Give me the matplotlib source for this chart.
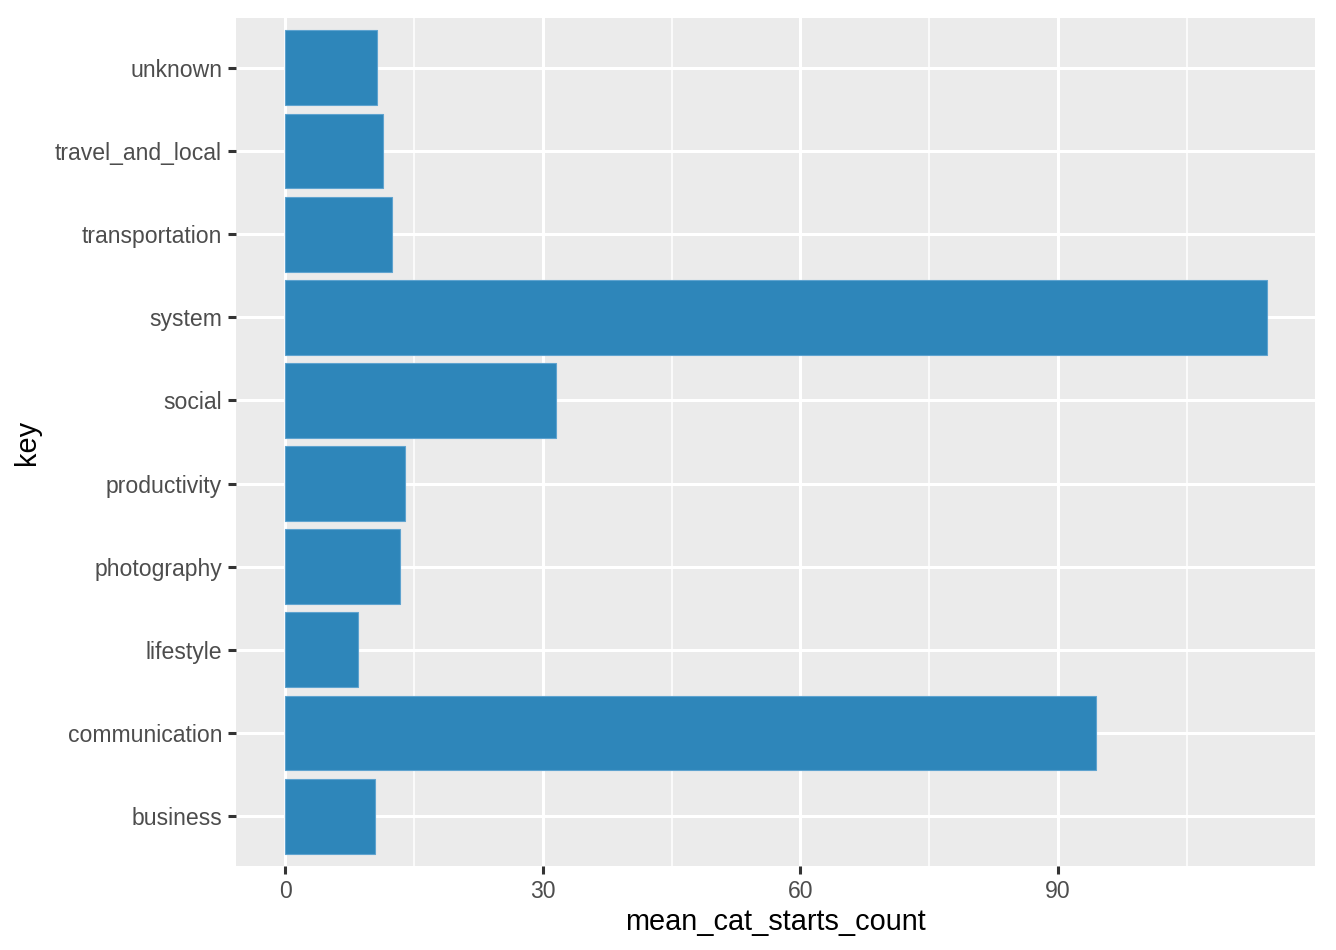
import matplotlib
matplotlib.use("Agg")
import matplotlib.pyplot as plt
from matplotlib.ticker import FixedLocator

# data, bottom to top
categories = ["business", "communication", "lifestyle", "photography", "productivity",
              "social", "system", "transportation", "travel_and_local", "unknown"]
mean_counts = [10.5, 94.4, 8.5, 13.4, 14.0, 31.5, 114.3, 12.5, 11.4, 10.7]
x_ticks = [0, 30, 60, 90]
x_minor = [15, 45, 75, 105]

plt.rcParams['font.family'] = ['Liberation Sans', 'DejaVu Sans']

fig = plt.figure(figsize=(13.36, 9.5), dpi=100)
ax = fig.add_axes([236 / 1336, 1 - 866 / 950, (1315 - 236) / 1336, (866 - 18) / 950])

ypos = list(range(1, len(categories) + 1))
ax.barh(ypos, mean_counts, height=0.9, color="#2E86BA", edgecolor="#5FA3CF",
        linewidth=0.8, zorder=3)

xmax = max(mean_counts)
ax.set_xlim(-0.05 * xmax, 1.049 * xmax)
ax.set_ylim(0.4, len(categories) + 0.6)

ax.set_facecolor("#EBEBEB")
for s in ax.spines.values():
    s.set_visible(False)

ax.xaxis.set_major_locator(FixedLocator(x_ticks))
ax.xaxis.set_minor_locator(FixedLocator(x_minor))
ax.set_yticks(ypos)
ax.set_yticklabels(categories)
ax.grid(which="major", color="white", linewidth=2.2, zorder=0)
ax.grid(which="minor", axis="x", color="white", linewidth=1.1, zorder=0)
ax.tick_params(axis="both", which="major", length=6, width=2.2, color="#333333",
               labelsize=16.6, labelcolor="#4D4D4D", pad=4)
ax.tick_params(axis="x", which="minor", length=0)

ax.set_xlabel("mean_cat_starts_count", fontsize=20.8, color="black", labelpad=4)
ax.set_ylabel("key", fontsize=20.8, color="black", labelpad=10)

fig.savefig("out.png", dpi=100)
